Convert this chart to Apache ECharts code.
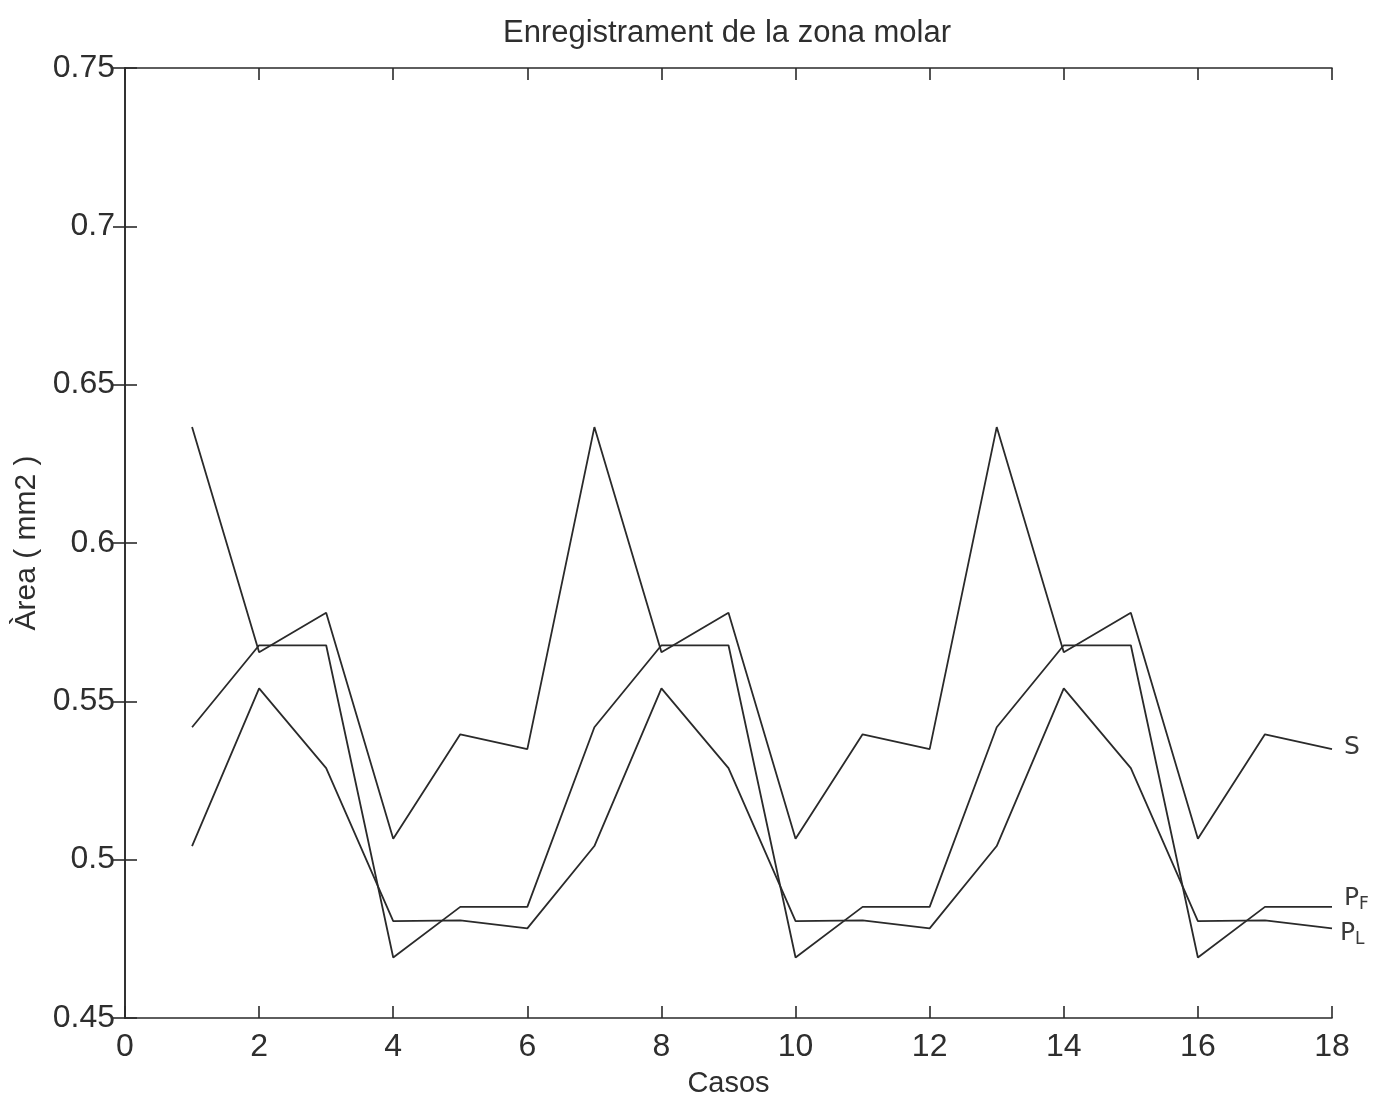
<!DOCTYPE html>
<html>
<head>
<meta charset="utf-8">
<script src="https://cdn.jsdelivr.net/npm/echarts@6/dist/echarts.min.js"></script>
<style>html,body{margin:0;padding:0;background:#fff;}#c{width:1375px;height:1103px;}</style>
</head>
<body>
<div id="c"></div>
<script>
const casos = [1,2,3,4,5,6,7,8,9,10,11,12,13,14,15,16,17,18];
const serieS  = [0.6366,0.5655,0.578,0.5066,0.5396,0.5349,0.6366,0.5655,0.578,0.5066,0.5396,0.5349,0.6366,0.5655,0.578,0.5066,0.5396,0.5349];
const seriePF = [0.5418,0.5677,0.5677,0.4691,0.4851,0.4851,0.5418,0.5677,0.5677,0.4691,0.4851,0.4851,0.5418,0.5677,0.5677,0.4691,0.4851,0.4851];
const seriePL = [0.5043,0.5541,0.5289,0.4806,0.4808,0.4783,0.5043,0.5541,0.5289,0.4806,0.4808,0.4783,0.5043,0.5541,0.5289,0.4806,0.4808,0.4783];
const xTicks = [0,2,4,6,8,10,12,14,16,18];
const yTicks = [0.45,0.5,0.55,0.6,0.65,0.7,0.75];
const titleText = 'Enregistrament de la zona molar';

const font = 'Liberation Sans';
const lineColor = '#2a2a2a';
const textColor = '#2e2e2e';
function mk(name, vals, lab, off) {
  return {
    name: name, type: 'line', data: casos.map((c,i)=>[c, vals[i]]),
    symbol: 'none', lineStyle: {color: lineColor, width: 1.8}, animation: false,
    endLabel: {show: true, formatter: lab, offset: off, color: '#3a3a3a', fontFamily: 'DejaVu Sans', fontSize: 25,
      rich: {sub: {fontSize: 17, fontFamily: 'DejaVu Sans', color: '#3a3a3a', verticalAlign: 'bottom', padding: [12,0,0,0]}}}
  };
}
const chart = echarts.init(document.getElementById('c'), null, {renderer: 'canvas'});
chart.setOption({
  backgroundColor: '#fff',
  animation: false,
  title: {text: titleText, left: 722, textAlign: 'center', top: 13,
    textStyle: {fontFamily: font, fontWeight: 'normal', fontSize: 31, color: textColor}},
  grid: {left: 125, right: 43, top: 68, bottom: 81},
  xAxis: [
    {type: 'value', min: 0, max: 18, interval: 2, position: 'bottom',
     name: 'Casos', nameLocation: 'middle', nameGap: 51,
     nameTextStyle: {fontFamily: font, fontSize: 29, color: textColor},
     axisLine: {lineStyle: {color: lineColor, width: 1.6}},
     axisTick: {inside: true, length: 12, lineStyle: {color: lineColor, width: 1.6}},
     axisLabel: {fontFamily: font, fontSize: 32, color: textColor, margin: 13,
       formatter: v => xTicks.includes(v) ? String(v) : ''},
     splitLine: {show: false}},
    {type: 'value', min: 0, max: 18, interval: 2, position: 'top',
     axisLine: {lineStyle: {color: lineColor, width: 1.6}},
     axisTick: {inside: true, length: 12, lineStyle: {color: lineColor, width: 1.6}},
     axisLabel: {show: false}, splitLine: {show: false}}
  ],
  yAxis: [
    {type: 'value', min: 0.45, max: 0.75, interval: 0.05, position: 'left',
     name: 'Àrea ( mm2 )', nameLocation: 'middle', nameGap: 72, nameRotate: 90,
     nameTextStyle: {fontFamily: font, fontSize: 30, color: textColor},
     axisLine: {show: true, lineStyle: {color: lineColor, width: 1.6}},
     axisTick: {show: true, inside: true, length: 12, lineStyle: {color: lineColor, width: 1.6}},
     axisLabel: {fontFamily: font, fontSize: 32, color: textColor, margin: 10,
       formatter: v => { const t = yTicks.find(y => Math.abs(y - v) < 1e-9); return t === undefined ? '' : String(t); }},
     splitLine: {show: false}},
    {type: 'value', min: 0.45, max: 0.75, interval: 0.05, position: 'right',
     axisLine: {show: true, lineStyle: {color: lineColor, width: 1.6}},
     axisTick: {show: true, inside: true, length: 12, lineStyle: {color: lineColor, width: 1.6}},
     axisLabel: {show: false}, splitLine: {show: false}}
  ],
  series: [
    mk('S', serieS, 'S', [4, -2]),
    mk('PF', seriePF, 'P{sub|F}', [4, -8]),
    mk('PL', seriePL, 'P{sub|L}', [0, 5])
  ]
});
</script>
</body>
</html>
